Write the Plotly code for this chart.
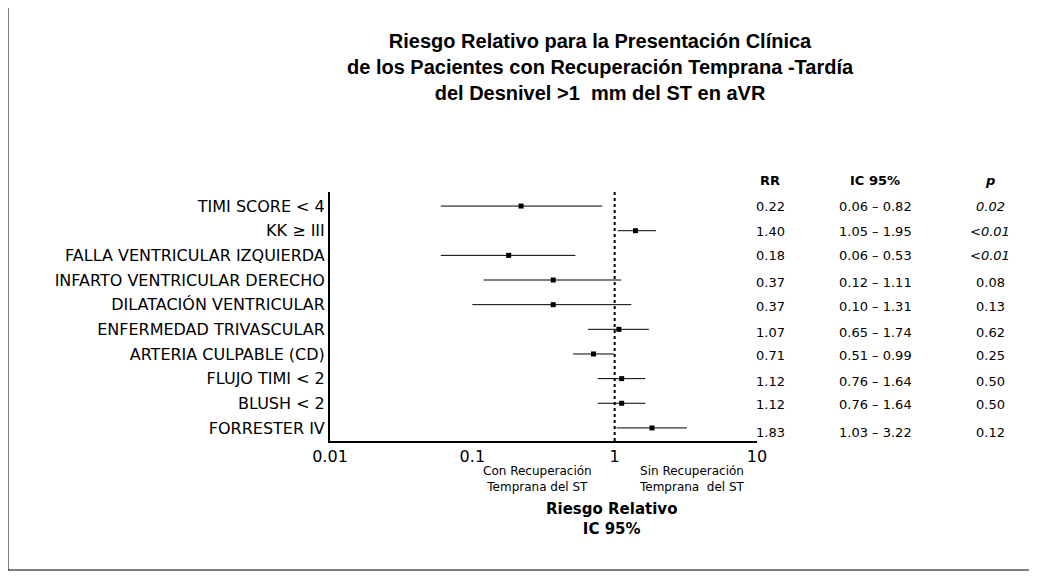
import plotly.graph_objects as go

labels = ["TIMI SCORE < 4", "KK ≥ III", "FALLA VENTRICULAR IZQUIERDA", "INFARTO VENTRICULAR DERECHO",
          "DILATACIÓN VENTRICULAR", "ENFERMEDAD TRIVASCULAR", "ARTERIA CULPABLE (CD)",
          "FLUJO TIMI < 2", "BLUSH < 2", "FORRESTER IV"]
rr = [0.22, 1.40, 0.18, 0.37, 0.37, 1.07, 0.71, 1.12, 1.12, 1.83]
lo = [0.06, 1.05, 0.06, 0.12, 0.10, 0.65, 0.51, 0.76, 0.76, 1.03]
hi = [0.82, 1.95, 0.53, 1.11, 1.31, 1.74, 0.99, 1.64, 1.64, 3.22]
pvals = ["<i>0.02</i>", "<i><0.01</i>", "<i><0.01</i>", "0.08", "0.13", "0.62", "0.25", "0.50", "0.50", "0.12"]
ticks = [0.01, 0.1, 1, 10]

ys = list(range(len(labels)))
fig = go.Figure()
for i in ys:
    fig.add_trace(go.Scatter(x=[lo[i], hi[i]], y=[i, i], mode="lines",
                             line=dict(color="black", width=1), showlegend=False, hoverinfo="skip"))
fig.add_trace(go.Scatter(x=rr, y=ys, mode="markers", marker=dict(symbol="square", size=5, color="black"),
                         showlegend=False))
fig.add_shape(type="line", x0=1, x1=1, xref="x", y0=0, y1=1, yref="paper",
              line=dict(color="black", width=2, dash="dot"))
fig.add_shape(type="rect", xref="paper", yref="paper", x0=-322/427, x1=1+273/427, y0=-129/249, y1=1+187/249,
              line=dict(color="black", width=1))

F = "DejaVu Sans"
def px2x(px): return (px - 330) / 427
def py2y(py): return (441 - py) / 249

row_px = [206, 231, 255, 282, 306, 332, 355, 381, 404, 432]
ann = []
for txt, px in [("<b>RR</b>", 770), ("<b>IC 95%</b>", 875), ("<b><i>p</i></b>", 990)]:
    ann.append(dict(x=px2x(px), y=py2y(180), text=txt))
for i in ys:
    yy = py2y(row_px[i])
    ann.append(dict(x=px2x(770), y=yy, text=f"{rr[i]:.2f}"))
    ann.append(dict(x=px2x(875), y=yy, text=f"{lo[i]:.2f} – {hi[i]:.2f}"))
    ann.append(dict(x=px2x(990), y=yy, text=pvals[i]))
annotations = [dict(a, font=dict(family=F, size=13, color="black")) for a in ann]
annotations += [
    dict(x=px2x(537), y=py2y(479), text="Con Recuperación<br>Temprana del ST", font=dict(family=F, size=12, color="black")),
    dict(x=px2x(692), y=py2y(479), text="Sin Recuperación<br>Temprana  del ST", font=dict(family=F, size=12, color="black")),
    dict(x=px2x(611), y=py2y(519), text="<b>Riesgo Relativo<br>IC 95%</b>", font=dict(family=F, size=15, color="black")),
    dict(x=px2x(600), y=py2y(67), text="<b>Riesgo Relativo para la Presentación Clínica<br>de los Pacientes con Recuperación Temprana -Tardía<br>del Desnivel >1  mm del ST en aVR</b>",
         font=dict(family="Liberation Sans", size=20, color="black")),
]
for a in annotations:
    a.update(xref="paper", yref="paper", showarrow=False, xanchor="center", yanchor="middle")

fig.update_layout(
    width=1037, height=579, plot_bgcolor="white", paper_bgcolor="white",
    margin=dict(l=322, r=288, t=184, b=146),
    xaxis=dict(type="log", range=[-2, 1], tickvals=ticks, ticktext=["0.01", "0.1", "1", "10"],
               showgrid=False, showline=True, linecolor="black", linewidth=2, ticks="",
               tickfont=dict(family=F, size=16, color="black"), zeroline=False),
    yaxis=dict(range=[9.53, -0.57], tickvals=ys, ticktext=labels, showgrid=False, showline=True,
               linecolor="black", linewidth=2, ticks="", zeroline=False,
               tickfont=dict(family=F, size=16, color="black")),
    annotations=annotations,
)
fig.write_html("out.html")
